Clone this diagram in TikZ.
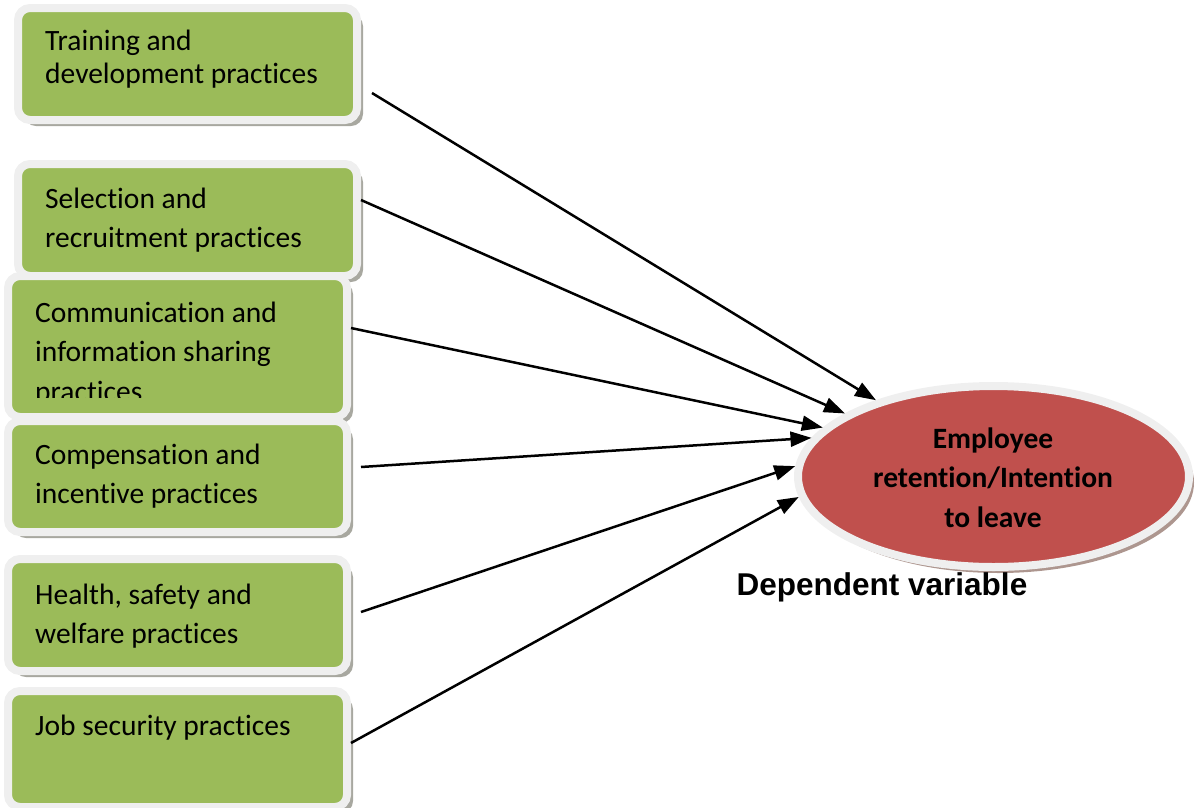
\documentclass[tikz,border=0pt]{standalone}
\usepackage{fontspec}
\setmainfont{Carlito}[Ligatures=NoCommon]
\newfontfamily\depfont{Liberation Sans}
\usetikzlibrary{shapes.geometric,shadows,arrows.meta}
\definecolor{boxgreen}{HTML}{9BBB59}
\definecolor{ellred}{HTML}{C0504D}
\definecolor{framegray}{HTML}{EFEFEF}
\definecolor{shadowgray}{HTML}{A8A8A0}
\begin{document}
\begin{tikzpicture}[x=1pt,y=-1pt,
  gbox/.style={rectangle, rounded corners=12pt, fill=boxgreen, draw=framegray,
    line width=8pt, minimum width=339pt, inner sep=0pt,
    drop shadow={shadow xshift=6pt, shadow yshift=-6pt, fill=shadowgray, opacity=1}},
  btext/.style={anchor=base west, align=left, inner sep=0pt,
    font=\fontsize{29.5}{39}\selectfont},
  ell/.style={ellipse, fill=ellred, draw=framegray, line width=8pt, inner sep=0pt,
    minimum width=391pt, minimum height=181pt,
    drop shadow={shadow xshift=5pt, shadow yshift=-6pt, fill=shadowgray!80!ellred, opacity=1}},
  etext/.style={anchor=base, align=center, inner sep=0pt,
    font=\bfseries\fontsize{29.5}{39.5}\selectfont},
  conn/.style={line width=2.5pt, -{Triangle[length=21pt,width=15pt]}}
]
\useasboundingbox (0,0) rectangle (1195,807);

\node[gbox, minimum height=112pt] (b1) at (187.5,64) {};
\node[gbox, minimum height=112pt] (b2) at (187.5,220) {};
\node[gbox, minimum height=141pt] (b3) at (177.5,346.5) {};
\node[gbox, minimum height=111pt] (b4) at (177.5,476.5) {};
\node[gbox, minimum height=112pt] (b5) at (177.5,615) {};
\node[gbox, minimum height=116pt] (b6) at (177.5,749) {};

% anchor "base" of a multi-line node = baseline of its last line
\node[btext, font=\fontsize{29.5}{33}\selectfont] (t1) at (45,83) {Training and\\development practices};
\node[btext] (t2) at (45,247) {Selection and\\recruitment practices};
\begin{scope}
  \clip (0,0) rectangle (1195,397);
  \node[btext, font=\fontsize{29.5}{39.5}\selectfont] (t3) at (35,401) {Communication and\\information sharing\\practices};
\end{scope}
\node[btext] (t4) at (35,503) {Compensation and\\incentive practices};
\node[btext] (t5) at (35,643) {Health, safety and\\welfare practices};
\node[btext] (t6) at (35,735) {Job security practices};

\node[ell] (e) at (993.5,476.5) {};
\node[etext] (et) at (993,527) {Employee\\retention/Intention\\to leave};

\node[anchor=base, inner sep=0pt, font=\depfont\bfseries\fontsize{31.5}{34}\selectfont] (dv) at (882,595) {Dependent variable};

\draw[conn] ([shift={(11,29)}]b1.east) -- (e.147.8);
\draw[conn] ([shift={(0,-20)}]b2.east) -- (e.157.8);
\draw[conn] ([shift={(0,-18.5)}]b3.east) -- (e.164.3);
\draw[conn] ([shift={(10,-9.5)}]b4.east) -- (e.168.6);
\draw[conn] ([shift={(10,-3)}]b5.east) -- (e.177.4);
\draw[conn] ([shift={(0,-6)}]b6.east) -- (e.186.3);
\end{tikzpicture}
\end{document}
